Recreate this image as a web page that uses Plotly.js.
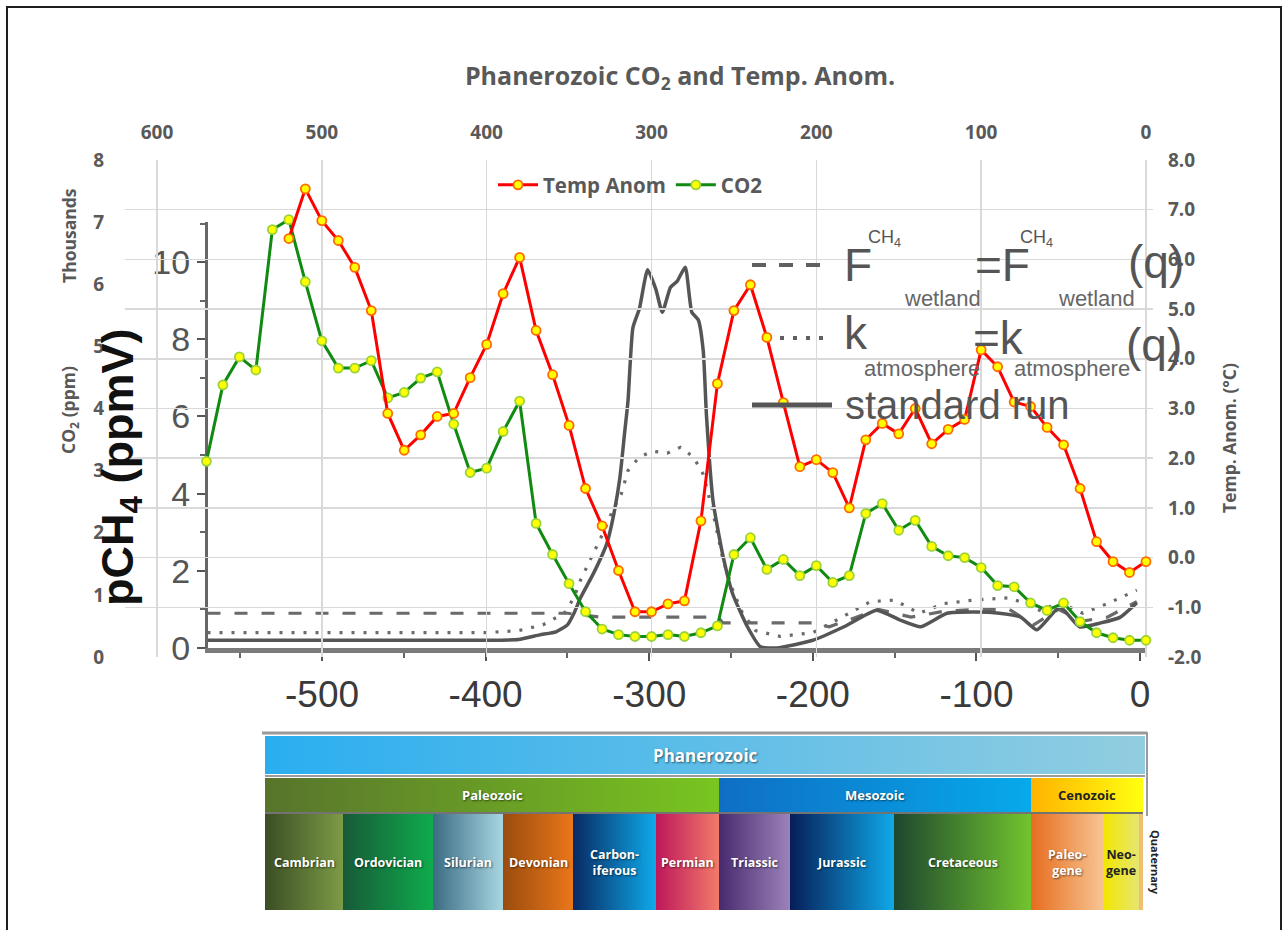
<!DOCTYPE html>
<html><head><meta charset="utf-8">
<script src="https://cdn.plot.ly/plotly-3.0.1.min.js"></script>
<style>html,body{margin:0;padding:0;background:#fff}#chart{width:1283px;height:930px}</style>
</head><body><div id="chart"></div>
<script>
// ---------- Main chart data (age in Ma before present) ----------
const co2Age = [570,560,550,540,530,520,510,500,490,480,470,460,450,440,430,420,410,400,390,380,370,360,350,340,330,320,310,300,290,280,270,260,250,240,230,220,210,200,190,180,170,160,150,140,130,120,110,100,90,80,70,60,50,40,30,20,10,0];
const co2Thousands = [3.15,4.38,4.83,4.62,6.88,7.04,6.04,5.09,4.65,4.65,4.77,4.17,4.26,4.49,4.59,3.75,2.97,3.04,3.63,4.12,2.15,1.65,1.18,0.73,0.45,0.36,0.33,0.33,0.36,0.33,0.39,0.5,1.65,1.92,1.41,1.57,1.31,1.47,1.2,1.31,2.31,2.47,2.04,2.2,1.78,1.63,1.6,1.44,1.15,1.13,0.87,0.75,0.87,0.57,0.39,0.31,0.27,0.27];
const tempAge = [520,510,500,490,480,470,460,450,440,430,420,410,400,390,380,370,360,350,340,330,320,310,300,290,280,270,260,250,240,230,220,210,200,190,180,170,160,150,140,130,120,110,100,90,80,70,60,50,40,30,20,10,0];
const tempAnom = [6.42,7.42,6.78,6.38,5.84,4.97,2.9,2.16,2.47,2.84,2.9,3.62,4.29,5.31,6.04,4.57,3.68,2.66,1.39,0.64,-0.26,-1.09,-1.09,-0.93,-0.87,0.74,3.5,4.97,5.49,4.43,3.12,1.83,1.97,1.71,1.0,2.37,2.7,2.49,3.0,2.29,2.58,2.78,4.18,3.84,3.13,3.04,2.62,2.27,1.39,0.32,-0.08,-0.3,-0.08];
const ageTicks = [600,500,400,300,200,100,0];
const co2Ticks = [0,1,2,3,4,5,6,7,8];
const tempTicks = [-2,-1,0,1,2,3,4,5,6,7,8];
const tempTickText = ['-2.0','-1.0','0.0','1.0','2.0','3.0','4.0','5.0','6.0','7.0','8.0'];

// ---------- Inset pCH4 model chart (time in Myr, negative = past) ----------
const stdTime = [-570,-450,-400,-380,-367,-357,-350,-346,-342,-334,-326,-322,-318,-315,-313,-310,-306,-301,-296,-292,-287,-283,-278,-274,-270,-267,-265,-261,-255,-249,-240,-232,-222,-200,-181,-161,-147,-134,-118,-100,-86,-73,-63,-49,-37,-24,-12,-2];
const stdRun = [0.2,0.2,0.2,0.22,0.34,0.42,0.6,0.9,1.3,1.94,2.7,3.4,4.4,5.6,6.4,8.3,8.8,9.8,9.3,8.7,9.35,9.5,9.87,8.7,8.5,7.7,6.0,3.8,2.4,1.4,0.55,0.03,0.0,0.2,0.55,0.98,0.73,0.55,0.9,0.93,0.9,0.8,0.47,1.06,0.55,0.65,0.8,1.17];
const wetTime = [-570,-350,-330,-258,-255,-200,-190,-180,-160,-140,-120,-100,-80,-65,-50,-35,-20,-2];
const wetRun = [0.9,0.9,0.8,0.8,0.65,0.65,0.55,0.7,1.0,0.8,0.95,1.0,1.0,0.6,1.0,0.7,0.8,1.2];
const atmTime = [-570,-400,-380,-365,-352,-346,-342,-335,-328,-322,-317,-313,-306,-298,-289,-281,-273,-267,-261,-255,-249,-243,-235,-220,-200,-180,-165,-150,-135,-120,-100,-80,-70,-60,-50,-35,-20,-2];
const atmRun = [0.4,0.4,0.45,0.6,0.9,1.3,1.76,2.4,3.0,3.6,4.0,4.6,4.95,5.1,5.05,5.2,4.95,4.5,3.5,2.3,1.5,0.9,0.45,0.3,0.4,0.85,1.2,1.24,0.9,1.15,1.25,1.3,1.15,0.95,1.2,0.9,1.15,1.5];
const chTickVals = [-500,-400,-300,-200,-100,0];
const chTickText = ['-500','-400','-300','-200','-100','0'];
const pch4Ticks = [0,2,4,6,8,10];

// ---------- Geologic time scale graphic ----------
const eonNames = ['Phanerozoic'];
const eraNames = ['Paleozoic','Mesozoic','Cenozoic'];
const periodNames = ['Cambrian','Ordovician','Silurian','Devonian','Carbon-<br>iferous','Permian','Triassic','Jurassic','Cretaceous','Paleo-<br>gene','Neo-<br>gene',''];

// layout (pixel) constants for the graphic
const eonEdges = [265,1145];
const eraEdges = [265,719,1031,1143];
const periodEdges = [265,343,433,503,573,656,719,790,894,1031,1103,1139,1143];
const eonRow = [736,774], eraRow = [778,812], periodRow = [814,910];
const eonColors = [['#2aaef0','#92cde0']];
const eraColors = [['#58742c','#79c520'],['#0f6ec4','#06aaea'],['#ffb300','#ffff10']];
const eraTextColors = ['#ffffff','#ffffff','#222222'];
const periodColors = [['#3b4d24','#7c9b46'],['#175a38','#0fab4c'],['#3a6c82','#a8d6e2'],['#9a4c0e','#ea761a'],['#082a62','#0eaaea'],['#bd175a','#f27a6a'],['#472a6e','#9c82ba'],['#061e58','#0fa9e9'],['#1d472e','#72c42e'],['#e66d1e','#f7c492'],['#f2e600','#e6e670'],['#f0c070','#f0c070']];
const periodTextColors = ['#fff','#fff','#fff','#fff','#fff','#fff','#fff','#fff','#fff','#fff','#222','#222'];

const W = 1283, H = 930;
const fx = p => p / W, fy = p => 1 - p / H;
const GREY = '#595959';
const mainFont = 'Open Sans, Noto Sans, sans-serif';
const labFont = 'Liberation Sans, Arial, sans-serif';

const traces = [];
// inset curves (grey)
traces.push({x: atmTime, y: atmRun, xaxis:'x', yaxis:'y', type:'scatter', mode:'lines',
  line:{color:'#6a6a6a', width:3.2, dash:'3px,9px'}, showlegend:false, hoverinfo:'skip'});
traces.push({x: wetTime, y: wetRun, xaxis:'x', yaxis:'y', type:'scatter', mode:'lines',
  line:{color:'#6a6a6a', width:3.2, dash:'13px,14px'}, showlegend:false, hoverinfo:'skip'});
traces.push({x: stdTime, y: stdRun, xaxis:'x', yaxis:'y', type:'scatter', mode:'lines',
  line:{color:'#555555', width:3.5, shape:'spline', smoothing:0.5}, showlegend:false, hoverinfo:'skip'});

// main series
traces.push({x: tempAge, y: tempAnom, xaxis:'x2', yaxis:'y3', type:'scatter', mode:'lines+markers',
  name:'Temp Anom', line:{color:'#ff0000', width:3},
  marker:{size:9, color:'#ffff00', line:{color:'#ff6a00', width:1.8}}});
traces.push({x: co2Age, y: co2Thousands, xaxis:'x2', yaxis:'y2', type:'scatter', mode:'lines+markers',
  name:'CO2', line:{color:'#118a11', width:3},
  marker:{size:9, color:'#ffff00', line:{color:'#9ad23a', width:1.8}}});

// timescale blocks
function block(x0, x1, y0, y1, cols){
  return {x:[x0,x1,x1,x0,x0], y:[y0,y0,y1,y1,y0], xaxis:'x4', yaxis:'y4', type:'scatter',
    mode:'none', fill:'toself', fillgradient:{type:'horizontal', colorscale:[[0,cols[0]],[1,cols[1]]]},
    showlegend:false, hoverinfo:'skip'};
}
const annotations = [];
const shadow = '1px 1px 2px rgba(0,0,0,0.55)';
eonNames.forEach((n,i)=>{
  traces.push(block(eonEdges[i], eonEdges[i+1], eonRow[0], eonRow[1], eonColors[i]));
  annotations.push({x:(eonEdges[i]+eonEdges[i+1])/2, y:(eonRow[0]+eonRow[1])/2, xref:'x4', yref:'y4',
    text:'<b>'+n+'</b>', showarrow:false, font:{family:mainFont, size:17, color:'#ffffff', shadow:shadow}});
});
eraNames.forEach((n,i)=>{
  traces.push(block(eraEdges[i], eraEdges[i+1], eraRow[0], eraRow[1], eraColors[i]));
  annotations.push({x:(eraEdges[i]+eraEdges[i+1])/2, y:(eraRow[0]+eraRow[1])/2, xref:'x4', yref:'y4',
    text:'<b>'+n+'</b>', showarrow:false, font:{family:mainFont, size:13, color:eraTextColors[i],
    shadow: eraTextColors[i]==='#ffffff'?shadow:'none'}});
});
periodNames.forEach((n,i)=>{
  traces.push(block(periodEdges[i], periodEdges[i+1], periodRow[0], periodRow[1], periodColors[i]));
  if(n) annotations.push({x:(periodEdges[i]+periodEdges[i+1])/2, y:(periodRow[0]+periodRow[1])/2, xref:'x4', yref:'y4',
    text:'<b>'+n+'</b>', showarrow:false, font:{family:mainFont, size:12.5, color:periodTextColors[i],
    shadow: periodTextColors[i]==='#fff'?shadow:'none'}});
});
annotations.push({x:1156, y:862, xref:'x4', yref:'y4', text:'<b>Quaternary</b>', textangle:90, showarrow:false,
  font:{family:mainFont, size:11, color:'#222'}});

// axis titles
annotations.push({x:69, y:236, xref:'x4', yref:'y4', text:'<b>Thousands</b>', textangle:-90, showarrow:false,
  font:{family:mainFont, size:17.5, color:GREY}});
annotations.push({x:69, y:410, xref:'x4', yref:'y4', text:'<b>CO<sub>2</sub> (ppm)</b>', textangle:-90, showarrow:false,
  font:{family:mainFont, size:17.5, color:GREY}});
annotations.push({x:1229, y:438, xref:'x4', yref:'y4', text:'<b>Temp. Anom. (°C)</b>', textangle:-90, showarrow:false,
  font:{family:mainFont, size:17.5, color:GREY}});
annotations.push({x:120, y:467, xref:'x4', yref:'y4', text:'<b>pCH<sub>4</sub> (ppmV)</b>', textangle:-90, showarrow:false,
  font:{family:labFont, size:45, color:'#111'}});

// inset legend text
const LG = '#555555';
function txt(x,y,t,s,col){annotations.push({x:x, y:y, xref:'x4', yref:'y4', xanchor:'left', yanchor:'middle',
  text:t, showarrow:false, font:{family:'Liberation Sans Narrow, Liberation Sans, Arial, sans-serif', size:s, color:col||LG}});}
txt(842,265,'F',46); txt(866,238,'CH<sub>4</sub>',18); txt(902,298,'wetland',22,'#666');
txt(973,265,'=F',46); txt(1018,238,'CH<sub>4</sub>',18); txt(1056,298,'wetland',22,'#666'); txt(1126,262,'(q)',46);
txt(842,333,'k',46); txt(862,368,'atmosphere',22,'#666');
txt(971,338,'=k',46); txt(1012,368,'atmosphere',22,'#666'); txt(1124,345,'(q)',46);
txt(843,405,'standard run',40);

const shapes = [
  {type:'line', xref:'x4', yref:'y4', x0:752, x1:832, y0:265, y1:265, line:{color:'#606060', width:4, dash:'14px,13px'}},
  {type:'line', xref:'x4', yref:'y4', x0:780, x1:830, y0:338, y1:338, line:{color:'#606060', width:4, dash:'4px,9px'}},
  {type:'line', xref:'x4', yref:'y4', x0:752, x1:832, y0:405, y1:405, line:{color:'#555', width:5}},
  // timescale frame lines
  {type:'line', xref:'x4', yref:'y4', x0:262, x1:1147, y0:733, y1:733, line:{color:'#9a9a9a', width:3}},
  {type:'line', xref:'x4', yref:'y4', x0:1147, x1:1147, y0:732, y1:816, line:{color:'#9a9a9a', width:2}},
  {type:'line', xref:'x4', yref:'y4', x0:265, x1:1145, y0:776, y1:776, line:{color:'#7a7a7a', width:1.5}},
  {type:'line', xref:'x4', yref:'y4', x0:265, x1:1143, y0:813, y1:813, line:{color:'#444', width:1.5}},
  // outer frame
  {type:'rect', xref:'x4', yref:'y4', x0:7, x1:1281, y0:7, y1:945, line:{color:'#1e1e1e', width:2}, fillcolor:'rgba(0,0,0,0)'}
];

const layout = {
  width: W, height: H,
  margin:{l:0, r:0, t:0, b:0, pad:0},
  paper_bgcolor:'#ffffff', plot_bgcolor:'rgba(0,0,0,0)',
  title:{text:'<b>Phanerozoic CO<sub>2</sub> and Temp. Anom.</b>', x:fx(680), xanchor:'center', y:fy(76), yanchor:'middle',
    font:{family:mainFont, size:25, color:GREY}},
  showlegend:true,
  legend:{x:fx(493), y:fy(185), xanchor:'left', yanchor:'middle', orientation:'h', bgcolor:'rgba(0,0,0,0)',
    font:{family:mainFont, size:20.5, color:GREY, weight:'bold'}, itemwidth:40, tracegroupgap:0},
  // inset pCH4 axes
  xaxis:{domain:[fx(208), fx(1145)], range:[-569.7, 3], anchor:'y', showgrid:false, zeroline:false,
    showline:true, linecolor:'#7a7a7a', linewidth:5, ticks:'outside', ticklen:8, tickwidth:2, tickcolor:'#555',
    tickmode:'array', tickvals:chTickVals, ticktext:chTickText,
    minor:{tickmode:'linear', tick0:0, dtick:50, ticks:'outside', ticklen:5, tickwidth:2, tickcolor:'#666'},
    tickfont:{family:labFont, size:37, color:'#3a3a3a'}, ticklabelstandoff:2, fixedrange:true},
  yaxis:{domain:[fy(648), fy(222)], range:[0, 11.04], anchor:'x', showgrid:false, zeroline:false,
    showline:true, linecolor:'#666', linewidth:3, ticks:'outside', ticklen:8, tickwidth:2, tickcolor:'#555',
    tickmode:'array', tickvals:pch4Ticks,
    minor:{tickmode:'linear', tick0:0, dtick:1, ticks:'outside', ticklen:5, tickwidth:2, tickcolor:'#666'},
    tickfont:{family:labFont, size:34, color:'#555'}, fixedrange:true},
  // main chart axes
  xaxis2:{domain:[fx(125), fx(1153)], range:[619.4, -4.25], anchor:'y2', side:'top',
    showgrid:true, gridcolor:'#d9d9d9', gridwidth:1.5, zeroline:false, showline:false, ticks:'',
    tickmode:'array', tickvals:ageTicks, tickfont:{family:mainFont, size:19, color:GREY, weight:'bold'},
    ticklabelstandoff:16, fixedrange:true},
  yaxis2:{domain:[fy(657), fy(160)], range:[0, 8], anchor:'x2', side:'left', showgrid:false, zeroline:false,
    showline:false, ticks:'', tickmode:'array', tickvals:co2Ticks,
    tickfont:{family:mainFont, size:19, color:GREY, weight:'bold'}, ticklabelstandoff:20, fixedrange:true},
  yaxis3:{overlaying:'y2', range:[-2, 8], anchor:'x2', side:'right', showgrid:true, gridcolor:'#d9d9d9', gridwidth:1.5,
    zeroline:false, showline:false, ticks:'', tickmode:'array', tickvals:tempTicks, ticktext:tempTickText,
    tickfont:{family:mainFont, size:19, color:GREY, weight:'bold'}, ticklabelstandoff:14, fixedrange:true},
  // pixel-space axes for the decorative time-scale graphic and frame
  xaxis4:{domain:[0,1], range:[0, W], anchor:'y4', visible:false, fixedrange:true},
  yaxis4:{domain:[0,1], range:[H, 0], anchor:'x4', visible:false, fixedrange:true},
  annotations: annotations,
  shapes: shapes
};

Plotly.newPlot('chart', traces, layout, {staticPlot:true, displayModeBar:false});
</script></body></html>
